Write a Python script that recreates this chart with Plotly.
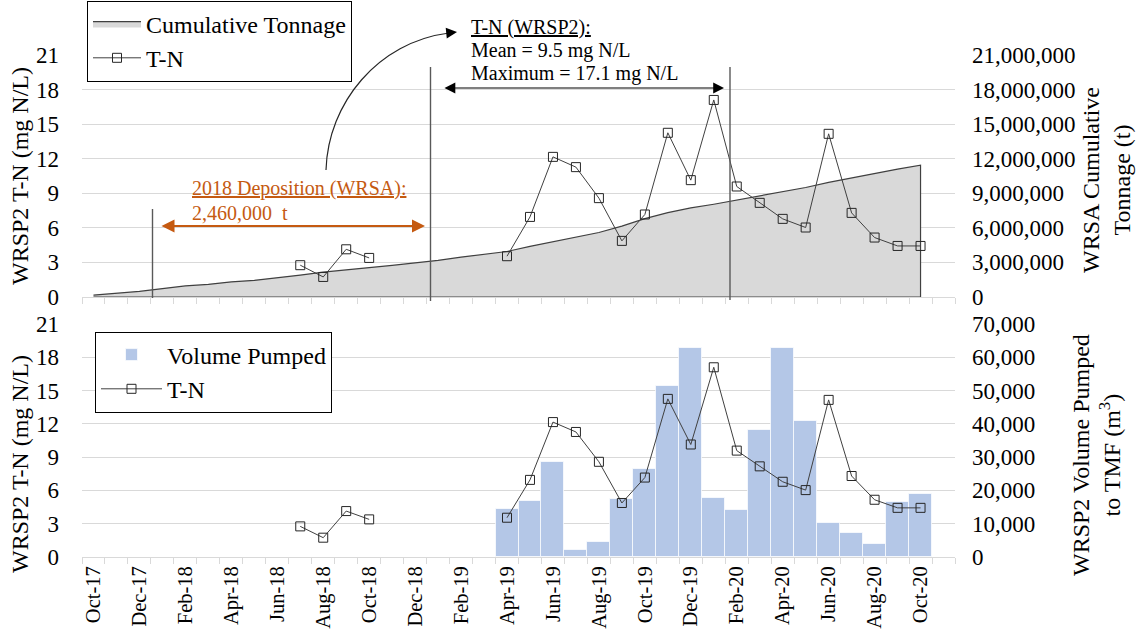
import plotly.graph_objects as go

# ---------------- data ----------------
months = ["Oct-17", "Nov-17", "Dec-17", "Jan-18", "Feb-18", "Mar-18", "Apr-18", "May-18",
          "Jun-18", "Jul-18", "Aug-18", "Sep-18", "Oct-18", "Nov-18", "Dec-18", "Jan-19",
          "Feb-19", "Mar-19", "Apr-19", "May-19", "Jun-19", "Jul-19", "Aug-19", "Sep-19",
          "Oct-19", "Nov-19", "Dec-19", "Jan-20", "Feb-20", "Mar-20", "Apr-20", "May-20",
          "Jun-20", "Jul-20", "Aug-20", "Sep-20", "Oct-20", "Nov-20"]

tick_labels = [m if i % 2 == 0 else "" for i, m in enumerate(months)]

# WRSP2 T-N (mg N/L)
tn = [None, None, None, None, None, None, None, None,
      None, 2.76, 1.74, 4.14, 3.39, None, None, None,
      None, None, 3.54, 6.95, 12.16, 11.27, 8.58, 4.87,
      7.16, 14.25, 10.14, 17.1, 9.59, 8.17, 6.78, 6.03,
      14.16, 7.30, 5.16, 4.43, 4.43, None]

# WRSA cumulative tonnage (t), Oct-17 .. Oct-20
tonnage = [170000, 300000, 480000, 730000, 960000, 1100000, 1320000, 1450000,
           1660000, 1900000, 2150000, 2370000, 2550000, 2740000, 2950000, 3180000,
           3460000, 3680000, 3950000, 4400000, 4800000, 5180000, 5600000, 6150000,
           6800000, 7320000, 7730000, 8050000, 8400000, 8780000, 9120000, 9500000,
           9940000, 10340000, 10750000, 11100000, 11440000]

# WRSP2 volume pumped to TMF (m3)
volume = [None, None, None, None, None, None, None, None,
          None, None, None, None, None, None, None, None,
          None, None, 14400, 16700, 28400, 2200, 4400, 17400,
          26400, 51400, 62900, 17600, 14200, 38200, 62700, 40900,
          10200, 7100, 3900, 16600, 18900, None]

# ---------------- layout helpers (pixel -> paper) ----------------
W, H = 1138, 630
L, R, T, B = 82, 955, 55, 557
TOP_Y0, BOT_Y1 = 297, 324


def px(x):
    return (x - L) / (R - L)


def py(y):
    return (B - y) / (B - T)


FONT = "Liberation Serif, Times New Roman, serif"
GRID = "#D9D9D9"
ORANGE = "#C55A11"

fig = go.Figure()

n_ton = len(tonnage)
fig.add_trace(go.Scatter(
    x=months[:n_ton] + [months[n_ton - 1], months[0]],
    y=tonnage + [0, 0],
    mode="lines", fill="toself", fillcolor="#D9D9D9",
    line=dict(color="#404040", width=1.2),
    name="Cumulative Tonnage", xaxis="x2", yaxis="y3", legend="legend"))

fig.add_trace(go.Scatter(
    x=months, y=tn, mode="lines+markers", name="T-N",
    line=dict(color="#404040", width=1),
    marker=dict(symbol="square-open", size=9, color="#262626", line=dict(width=1)),
    connectgaps=False, xaxis="x2", yaxis="y4", legend="legend"))

fig.add_trace(go.Bar(
    x=months, y=volume, name="Volume Pumped",
    marker=dict(color="#B4C7E7", line=dict(color="rgba(255,255,255,0.7)", width=1)),
    xaxis="x", yaxis="y", legend="legend2"))

fig.add_trace(go.Scatter(
    x=months, y=tn, mode="lines+markers", name="T-N",
    line=dict(color="#404040", width=1),
    marker=dict(symbol="square-open", size=9, color="#262626", line=dict(width=1)),
    connectgaps=False, xaxis="x", yaxis="y2", legend="legend2"))

xcommon = dict(type="category", categoryorder="array", categoryarray=months,
               range=[-0.5, len(months) - 0.5], tickson="boundaries",
               tickmode="array", tickvals=months, ticktext=tick_labels,
               ticks="outside", ticklen=6, tickcolor=GRID, showline=True,
               linecolor=GRID, linewidth=1, showgrid=False, zeroline=False)

tick_font = dict(family=FONT, size=23, color="black")
xtick_font = dict(family=FONT, size=20.5, color="black")

legend_common = dict(xanchor="left", yanchor="middle", bgcolor="white",
                     bordercolor="black", borderwidth=1,
                     font=dict(family=FONT, size=24, color="black"),
                     tracegroupgap=0, traceorder="normal")

fig.update_layout(
    width=W, height=H,
    margin=dict(l=L, r=W - R, t=T, b=H - B, autoexpand=False),
    paper_bgcolor="white", plot_bgcolor="white",
    font=dict(family=FONT, color="black"),
    bargap=0,
    showlegend=True,
    xaxis=dict(**xcommon, anchor="y", domain=[0, 1], tickangle=-90,
               tickfont=xtick_font, ticklabelstandoff=0, automargin=False),
    xaxis2=dict(**xcommon, anchor="y3", domain=[0, 1], matches="x",
                showticklabels=False, automargin=False),
    yaxis=dict(domain=[0, py(BOT_Y1)], side="right", anchor="x",
               range=[0, 70000], dtick=10000, tickformat=",d",
               showgrid=True, gridcolor=GRID, zeroline=False, showline=False,
               tickfont=tick_font, ticklabelstandoff=16, automargin=False),
    yaxis2=dict(overlaying="y", side="left", anchor="x", range=[0, 21], dtick=3,
                showgrid=False, zeroline=False, showline=False,
                tickfont=tick_font, ticklabelstandoff=22, automargin=False),
    yaxis3=dict(domain=[py(TOP_Y0), 1], side="right", anchor="x2",
                range=[0, 21000000], dtick=3000000, tickformat=",d",
                showgrid=True, gridcolor=GRID, zeroline=False, showline=False,
                tickfont=tick_font, ticklabelstandoff=16, automargin=False),
    yaxis4=dict(overlaying="y3", side="left", anchor="x2", range=[0, 21], dtick=3,
                showgrid=False, zeroline=False, showline=False,
                tickfont=tick_font, ticklabelstandoff=22, automargin=False),
    legend=dict(x=px(87), y=py(41), itemwidth=48, **legend_common),
    legend2=dict(x=px(95), y=py(372), itemwidth=61, **legend_common),
)

ann = []


def text_ann(t, x, y, size=20, color="black", xanchor="left", angle=0):
    ann.append(dict(text=t, x=px(x), y=py(y), xref="paper", yref="paper",
                    xanchor=xanchor, yanchor="middle", showarrow=False,
                    textangle=angle, font=dict(family=FONT, size=size, color=color)))


# axis titles
text_ann("WRSP2 T-N (mg N/L)", 20, 176, size=24, xanchor="center", angle=-90)
text_ann("WRSP2 T-N (mg N/L)", 20, 464, size=24, xanchor="center", angle=-90)
text_ann("WRSA Cumulative<br>Tonnage (t)", 1106, 180, size=24, xanchor="center", angle=-90)
text_ann("WRSP2 Volume Pumped<br>to TMF (m<sup>3</sup>)", 1096, 455, size=24,
         xanchor="center", angle=-90)

# T-N stats
text_ann("<u>T-N (WRSP2):</u>", 469, 27)
text_ann("Mean = 9.5 mg N/L", 469, 50)
text_ann("Maximum = 17.1 mg N/L", 469, 74)

# 2018 deposition
text_ann("<u>2018 Deposition (WRSA):</u>", 190, 188, color=ORANGE)
text_ann("2,460,000\u00a0\u00a0t", 190, 213, color=ORANGE)


def dbl_arrow(x0, x1, y, color, width, size):
    ann.append(dict(text="", x=px(x1), y=py(y), xref="paper", yref="paper",
                    ax=-(x1 - x0), ay=0, axref="pixel", ayref="pixel",
                    showarrow=True, arrowside="end+start", arrowhead=2,
                    arrowsize=size, arrowwidth=width, arrowcolor=color,
                    standoff=0, startstandoff=0))


dbl_arrow(443, 724, 88, "black", 1.2, 1.8)
dbl_arrow(160, 425, 226, ORANGE, 2, 1.3)

# arrowhead for curved arrow
ann.append(dict(text="", x=px(457), y=py(32), xref="paper", yref="paper",
                ax=-10, ay=1, axref="pixel", ayref="pixel", showarrow=True,
                arrowhead=2, arrowsize=1.8, arrowwidth=1.2, arrowcolor="black",
                standoff=0))

fig.update_layout(annotations=ann)

# curved arrow path
p0, c1, c2, p1 = (326, 170), (328, 103), (378, 42), (449, 33)
path = "M {} {} C {} {}, {} {}, {} {}".format(
    px(p0[0]), py(p0[1]), px(c1[0]), py(c1[1]), px(c2[0]), py(c2[1]), px(p1[0]), py(p1[1]))
shapes = [dict(type="path", path=path, xref="paper", yref="paper",
               line=dict(color="#262626", width=1.2), layer="above")]

# vertical period lines
for xv, ytop, ybot in [(152.5, 209, 298), (430.5, 67, 301), (730, 67, 300)]:
    shapes.append(dict(type="line", xref="paper", yref="paper",
                       x0=px(xv), x1=px(xv), y0=py(ytop), y1=py(ybot),
                       line=dict(color="#595959", width=1.4), layer="above"))

fig.update_layout(shapes=shapes)

fig.write_html("out.html", config={"displayModeBar": False},
               post_script="document.body.style.margin='0px';"
                           "document.body.style.overflow='hidden';")
